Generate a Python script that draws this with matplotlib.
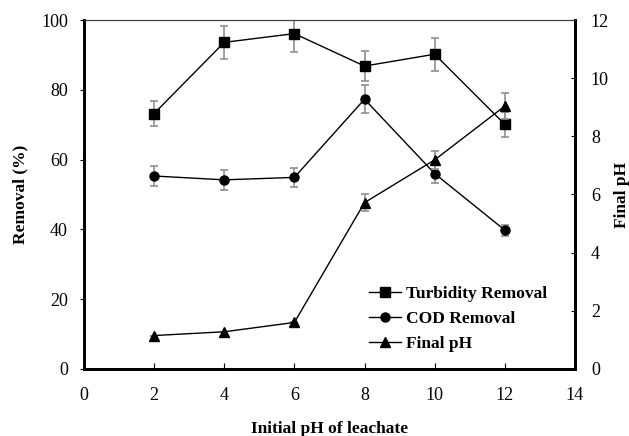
import matplotlib
matplotlib.use("Agg")
from matplotlib import pyplot as plt
from matplotlib.lines import Line2D

plt.rcParams["font.family"] = ["Liberation Serif", "DejaVu Serif"]

initial_ph = [2, 4, 6, 8, 10, 12]
turbidity = [73.2, 93.6, 96.1, 86.8, 90.2, 70.1]
turbidity_err = [3.7, 4.7, 5.2, 4.3, 4.7, 3.6]
cod = [55.3, 54.2, 54.9, 77.3, 56.0, 39.8]
cod_err = [2.9, 2.9, 2.8, 4.0, 2.8, 1.6]
final_ph = [1.15, 1.28, 1.60, 5.72, 7.19, 9.04]
final_ph_err = [0, 0, 0, 0.28, 0.32, 0.45]

fig = plt.figure(figsize=(6.29, 4.36), dpi=100)
ax = fig.add_axes([0.1335, 0.1537, 0.7805, 0.8004])
ax2 = ax.twinx()

err_kw = dict(ecolor="#909090", elinewidth=1.2, capsize=3, capthick=1.2)
ax.errorbar(initial_ph, turbidity, yerr=turbidity_err, color="black", lw=1,
            marker="s", ms=6.5, **err_kw)
ax.errorbar(initial_ph, cod, yerr=cod_err, color="black", lw=1,
            marker="o", ms=6.5, **err_kw)
ax2.errorbar(initial_ph, final_ph, yerr=final_ph_err, color="black", lw=1,
             marker="^", ms=7, **err_kw)

ax.set_xlim(0, 14)
ax.set_ylim(0, 100)
ax2.set_ylim(0, 12)
ax.set_xticks(range(0, 15, 2))
ax.set_yticks(range(0, 101, 20))
ax2.set_yticks(range(0, 13, 2))

ax.tick_params(axis="x", direction="in", length=4, pad=13, labelsize=13)
ax.tick_params(axis="y", direction="out", length=3, pad=8.5, labelsize=13)
ax2.tick_params(axis="y", direction="in", length=3, pad=11.5, labelsize=13)

for a in (ax, ax2):
    for side in ("left", "bottom", "right"):
        a.spines[side].set_linewidth(2)
    a.spines["top"].set_linewidth(0.8)
    a.spines["top"].set_color("#404040")

ax.set_xlabel("Initial pH of leachate", fontweight="bold", fontsize=12.5)
ax.set_ylabel("Removal (%)", fontweight="bold", fontsize=12.5)
ax2.set_ylabel("Final pH", fontweight="bold", fontsize=12.5)
ax.xaxis.set_label_coords(0.5, -0.15)
ax.yaxis.set_label_coords(-0.114, 0.5)
ax2.yaxis.set_label_coords(1.08, 0.5)

handles = [Line2D([], [], color="black", lw=1, marker="s", ms=6.5),
           Line2D([], [], color="black", lw=1, marker="o", ms=6.5),
           Line2D([], [], color="black", lw=1, marker="^", ms=7)]
ax.legend(handles, ["Turbidity Removal", "COD Removal", "Final pH"],
          loc="upper left", bbox_to_anchor=(0.548, 0.282), frameon=False,
          prop={"weight": "bold", "size": 12.5}, handlelength=1.85,
          handletextpad=0.3, labelspacing=0.5)

fig.savefig("out.png", dpi=100)
